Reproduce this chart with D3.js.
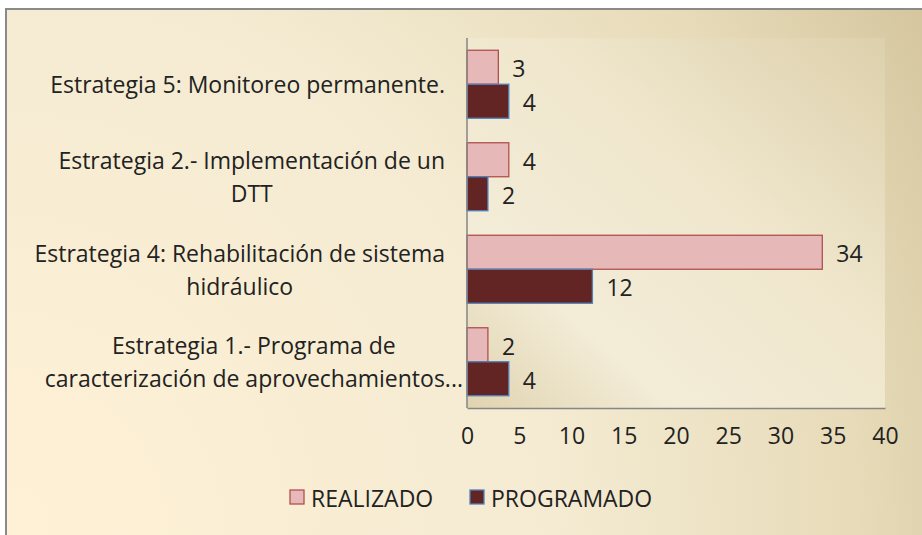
<!DOCTYPE html>
<html>
<head>
<meta charset="utf-8">
<script src="https://cdn.jsdelivr.net/npm/d3@7"></script>
<style>
  body { margin: 0; background: #fff; }
  svg { display: block; }
  text { font-family: "Open Sans", "Noto Sans", sans-serif; fill: #222; }
</style>
</head>
<body>
<div id="chart"></div>
<script>
// data, top to bottom as in the picture
const categories = ["Estrategia 5", "Estrategia 2", "Estrategia 4", "Estrategia 1"];
const categoryLines = [
  ["Estrategia 5: Monitoreo permanente."],
  ["Estrategia 2.- Implementación de un", "DTT"],
  ["Estrategia 4: Rehabilitación de sistema", "hidráulico"],
  ["Estrategia 1.- Programa de", "caracterización de aprovechamientos..."]
];
const realizado = [3, 4, 34, 2];
const programado = [4, 2, 12, 4];
const seriesNames = ["REALIZADO", "PROGRAMADO"];
const xTicks = [0, 5, 10, 15, 20, 25, 30, 35, 40];

const W = 922, H = 535;
const plot = {left: 467, right: 885, top: 38, bottom: 408};
const fontSize = 23;

const svg = d3.select("#chart").append("svg")
  .attr("width", W).attr("height", H);

const defs = svg.append("defs");
const outerGrad = defs.append("radialGradient")
  .attr("id", "outerBg")
  .attr("gradientUnits", "userSpaceOnUse")
  .attr("cx", 0).attr("cy", 535).attr("r", 1070);
outerGrad.append("stop").attr("offset", "0%").attr("stop-color", "#fff1d6");
outerGrad.append("stop").attr("offset", "52%").attr("stop-color", "#f4ebd2");
outerGrad.append("stop").attr("offset", "80%").attr("stop-color", "#e7dbb9");
outerGrad.append("stop").attr("offset", "100%").attr("stop-color", "#d4c59d");

const innerGrad = defs.append("linearGradient")
  .attr("id", "innerBg")
  .attr("x1", "0%").attr("y1", "100%").attr("x2", "100%").attr("y2", "0%");
innerGrad.append("stop").attr("offset", "0%").attr("stop-color", "#e0d3b0");
innerGrad.append("stop").attr("offset", "25%").attr("stop-color", "#f3ecd7");
innerGrad.append("stop").attr("offset", "60%").attr("stop-color", "#efe6cc");
innerGrad.append("stop").attr("offset", "100%").attr("stop-color", "#ddd0ac");

// chart background + border
svg.append("rect")
  .attr("x", 6).attr("y", 9).attr("width", W).attr("height", H)
  .attr("fill", "url(#outerBg)")
  .attr("stroke", "#8a8a8a").attr("stroke-width", 2);

svg.append("rect")
  .attr("x", plot.left).attr("y", plot.top)
  .attr("width", plot.right - plot.left).attr("height", plot.bottom - plot.top)
  .attr("fill", "url(#innerBg)");

const x = d3.scaleLinear().domain([0, 40]).range([plot.left, plot.right]);
const y = d3.scaleBand().domain(categories)
  .range([plot.top, plot.bottom])
  .paddingInner(0.265).paddingOuter(0.1325);
const inner = d3.scaleBand().domain(seriesNames).range([0, y.bandwidth()]);

const colors = {
  REALIZADO: {fill: "#e6b9b8", stroke: "#b0504e"},
  PROGRAMADO: {fill: "#632523", stroke: "#4f81bd"}
};

const rows = categories.map((c, i) => ({cat: c, vals: [
  {s: "REALIZADO", v: realizado[i]},
  {s: "PROGRAMADO", v: programado[i]}
]}));

const groups = svg.selectAll("g.cat").data(rows).join("g")
  .attr("class", "cat")
  .attr("transform", d => `translate(0,${y(d.cat)})`);

groups.selectAll("rect").data(d => d.vals).join("rect")
  .attr("x", x(0))
  .attr("y", d => inner(d.s))
  .attr("width", d => x(d.v) - x(0))
  .attr("height", inner.bandwidth())
  .attr("fill", d => colors[d.s].fill)
  .attr("stroke", d => colors[d.s].stroke)
  .attr("stroke-width", 1.3);

groups.selectAll("text.val").data(d => d.vals).join("text")
  .attr("class", "val")
  .attr("x", d => x(d.v) + 14)
  .attr("y", d => inner(d.s) + inner.bandwidth() / 2 + 1)
  .attr("dominant-baseline", "central")
  .attr("font-size", fontSize)
  .text(d => d.v);

// axes lines
svg.append("line")
  .attr("x1", plot.left).attr("x2", plot.left)
  .attr("y1", plot.top).attr("y2", plot.bottom)
  .attr("stroke", "#868686").attr("stroke-width", 1.5);

const xAxis = svg.append("g")
  .attr("transform", `translate(0,${plot.bottom})`)
  .call(d3.axisBottom(x).tickValues(xTicks).tickSize(0).tickPadding(20));
xAxis.select(".domain").attr("stroke", "#868686").attr("stroke-width", 1.5);
xAxis.selectAll("text")
  .attr("font-size", fontSize)
  .style("font-family", "'Open Sans', 'Noto Sans', sans-serif")
  .attr("fill", "#222");

// category labels: lines centred within a right-aligned block
const labelRight = 445;
const lineGap = 33;
categories.forEach((c, i) => {
  const g = svg.append("g");
  const lines = categoryLines[i];
  const cy = y(c) + y.bandwidth() / 2;
  const texts = g.selectAll("text").data(lines).join("text")
    .attr("font-size", fontSize)
    .attr("text-anchor", "middle")
    .attr("dominant-baseline", "central")
    .attr("y", (d, j) => cy + (j - (lines.length - 1) / 2) * lineGap)
    .text(d => d);
  let maxW = 0;
  texts.each(function() { maxW = Math.max(maxW, this.getComputedTextLength()); });
  texts.attr("x", i === 3 ? 463 - maxW / 2 : labelRight - maxW / 2);
});

// legend
const legend = svg.append("g").attr("transform", "translate(290,490)");
const legX = [0, 180];
seriesNames.forEach((s, i) => {
  legend.append("rect")
    .attr("x", legX[i]).attr("y", 0).attr("width", 14).attr("height", 14)
    .attr("fill", colors[s].fill).attr("stroke", colors[s].stroke).attr("stroke-width", 1.3);
  legend.append("text")
    .attr("x", legX[i] + 21).attr("y", 8)
    .attr("dominant-baseline", "central")
    .attr("font-size", fontSize)
    .text(s);
});
</script>
</body>
</html>
